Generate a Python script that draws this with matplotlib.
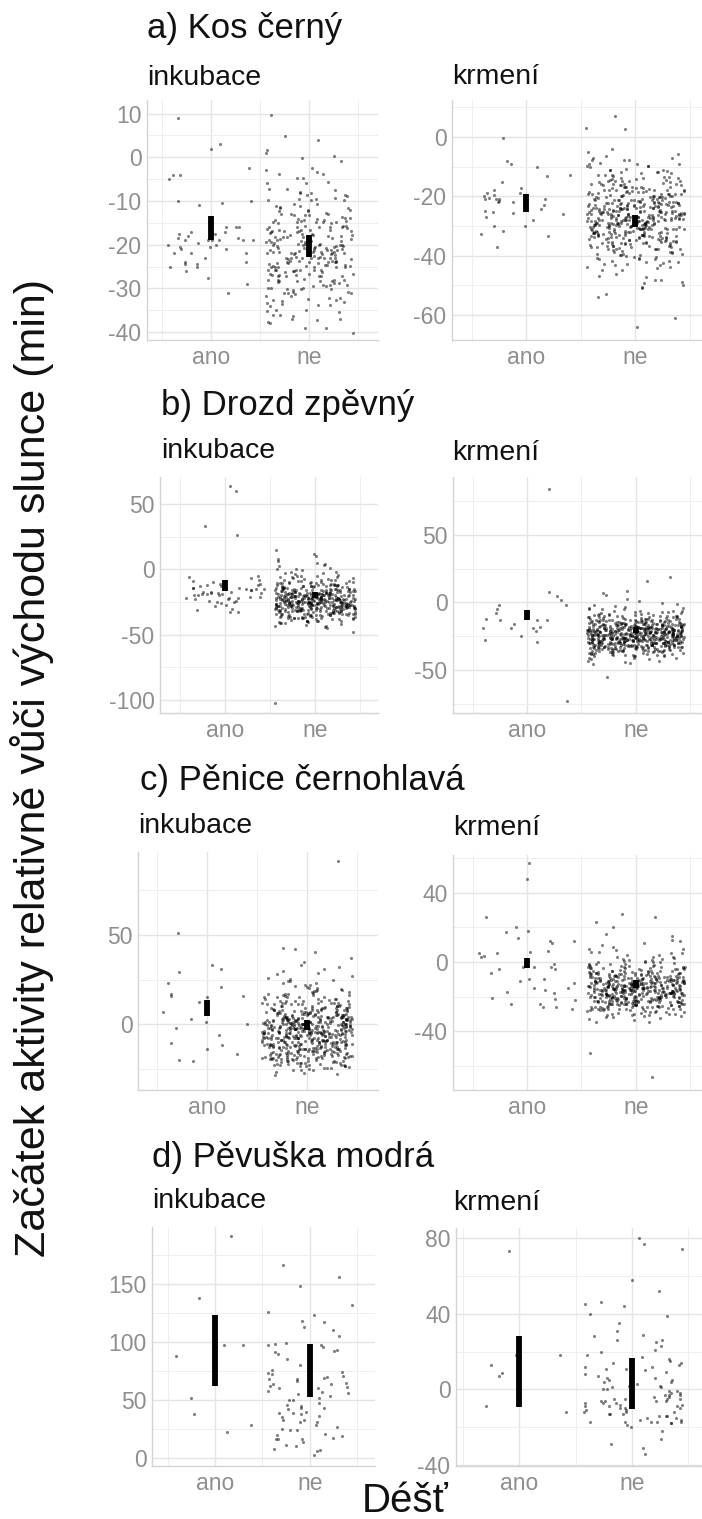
import numpy as np
import matplotlib
matplotlib.use("Agg")
import matplotlib.pyplot as plt

plt.rcParams["font.family"] = ["Liberation Sans", "DejaVu Sans"]
plt.rcParams["axes.unicode_minus"] = False

# ---------------------------------------------------------------------------
# Data: start of activity relative to sunrise (min), by rain (ano / ne)
# Sparse groups are listed value by value; dense groups are frequency tables
# (count of observations for each whole minute, starting at *_start).
# ---------------------------------------------------------------------------
categories = ["ano", "ne"]

# a) Kos černý
kos_ink_ano = [9, 2, 3, -5, -4, -2.5, -4, -10, -10, -10.5, -11, -19, -17, -17, -17.5,
               -16, -16, -17, -16, -17.5, -19, -19, -20, -20.5, -19.5, -19, -18, -18.5,
               -19, -18.5, -19, -22, -22, -22, -23, -20.5, -21, -24.5, -24, -26, -25,
               -24, -24.5, -27.7, -29, -31, -25, -20, -21]
kos_ink_ne_start = -40
kos_ink_ne_counts = [1, 2, 2, 3, 3, 4, 4, 5, 5, 6, 7, 8, 9, 11, 11, 12, 13, 13, 14, 13,
                     13, 12, 12, 11, 10, 9, 8, 7, 6, 5, 5, 4, 3, 3, 3, 2, 2, 2, 1, 1,
                     2, 1, 1, 0, 1, 1, 0, 0, 0, 0, 1]
kos_krm_ano = [-0.4, -8, -9.2, -13, -18, -17, -10, -12.7, -20.5, -20.8, -21, -21,
               -25.2, -24.8, -22, -21.6, -22.8, -24.3, -22, -19.6, -19, -31.6, -30, -30,
               -26, -33.2, -37, -32.6, -19.7, -18.8, -25.5, -23, -27, -15, -21, -28]
kos_krm_ne_start = -64
kos_krm_ne_counts = [1, 0, 0, 1, 0, 0, 0, 0, 0, 0, 1, 1, 0, 1, 2, 2, 2, 2, 1, 2,
                     3, 4, 5, 5, 6, 7, 8, 10, 11, 13, 14, 16, 18, 19, 20, 21, 22, 22, 21, 20,
                     19, 18, 17, 15, 14, 12, 11, 10, 9, 8, 7, 6, 5, 5, 4, 4, 3, 2, 2, 1,
                     1, 0, 0, 0, 0, 0, 0, 2, 0, 0, 0, 1]

# b) Drozd zpěvný
drozd_ink_ano = [60, 64, 33, 26, -33, -30, -28, -31, -33, -6, -8, -10, -12, -13, -14,
                 -15, -15, -16, -17, -18, -18, -19, -20, -20, -21, -22, -22, -23, -24,
                 -25, -26, -27, -9, -11, -14, -17, -19, -21, -23, -13, -16, -20, -24,
                 -12, -18, -7, -15, -22, -19, -5, -17, -25, -11, -14]
drozd_ink_ne_start = -48
drozd_ink_ne_counts = [1, 0, 0, 1, 1, 2, 2, 3, 4, 5, 6, 7, 8, 9, 10, 11, 13, 14, 16, 17,
                       18, 19, 20, 20, 20, 19, 18, 17, 16, 14, 13, 12, 11, 10, 9, 8, 7, 6,
                       6, 5, 4, 4, 3, 3, 2, 2, 2, 1, 2, 1, 1, 1, 1, 1, 1, 0, 1, 0, 1, 0,
                       1, 0, 0, 1]
drozd_ink_ne_extra = [-102]
drozd_krm_ano = [84, 8, 2, -2, -21, -28, -13, -19, -18, -2, -29, -13, -73, -19, -19,
                 5, -5, -13, -12, -16, -8, -25]
drozd_krm_ne_start = -56
drozd_krm_ne_counts = [0, 1, 0, 0, 0, 0, 0, 0, 0, 0, 1, 1, 1, 2, 2, 3, 4, 5, 7, 8,
                       10, 12, 14, 16, 18, 20, 22, 23, 24, 25, 26, 26, 26, 26, 25, 25, 24,
                       23, 21, 19, 17, 15, 13, 11, 9, 8, 7, 6, 5, 4, 3, 3, 2, 2, 1, 1, 1,
                       1, 0, 1, 0, 1, 0, 1, 1, 0, 0, 0, 0, 0, 0, 0, 1, 0, 0, 1]

# c) Pěnice černohlavá
penice_ink_ano = [51, 29, 33, 31, 16, 17, 15, 21, 12.5, 23, 16, 7, 3, -2, 0, -6, -10.5,
                  -12, -14, -17, -20, -21, 1, 9]
penice_ink_ne_start = -30
penice_ink_ne_counts = [0, 1, 1, 2, 3, 4, 5, 6, 7, 8, 9, 10, 10, 11, 12, 12, 13, 13, 14,
                        14, 15, 15, 16, 16, 17, 17, 18, 18, 18, 18, 18, 17, 16, 15, 14, 13,
                        12, 11, 10, 9, 8, 7, 7, 6, 5, 5, 4, 4, 3, 3, 3, 2, 2, 2, 2, 2, 1,
                        1, 1, 1, 1, 1, 1, 1, 0, 1, 0, 1, 0, 0, 1, 0, 1, 1, 0, 0]
penice_ink_ne_extra = [92]
penice_krm_ano = [57, 48, 26, 17, 14, 18, 12, 6.5, 6, 5, 3, -1, -3, -10, -6.5, -12, -10,
                  -15, -16, -24, -21.5, -4, 3.5, -11, -4, 11, 20, -3, -18, -26, -27, -3,
                  12, -15, -17, -22, -24, -26, -20.5, 5]
penice_krm_ne_start = -35
penice_krm_ne_counts = [1, 1, 2, 3, 4, 5, 6, 7, 9, 11, 13, 14, 16, 17, 18, 19, 20, 21, 21,
                        22, 22, 22, 21, 20, 19, 18, 16, 14, 13, 11, 10, 8, 7, 6, 5, 4, 4,
                        3, 3, 2, 2, 2, 2, 1, 1, 1, 1, 1, 1, 0, 1, 1, 0, 0, 0, 1, 0, 0, 1,
                        0, 0, 1, 0, 1]
penice_krm_ne_extra = [-66, -52.5]

# d) Pěvuška modrá
pevuska_ink_ano = [191, 138, 97, 97, 88, 52, 38, 28, 22]
pevuska_ink_ne = [166, 156, 148, 132, 123, 126, 118, 117, 113, 96, 91, 97, 98, 97, 99, 93,
                  92, 90, 76, 69, 70, 71, 68, 68, 64, 60, 56, 50, 73, 72, 74, 66, 64, 62,
                  57, 55, 53, 47, 46, 52, 43, 43, 42, 39, 35, 39, 38, 36, 31, 33, 31, 33,
                  11, 7, 10, 16, 21, 25, 24, 17, 16, 3, 6, 24, 20, 16, 85, 80, 60, 45, 65,
                  58, 28, 14, 105, 110, 40, 50, 61, 27, 19, 8]
pevuska_krm_ano = [73, 18, 7, 13, 8.5, -9, -12, 18]
pevuska_krm_ne = [77, 80, 74, 58, 52, 45, 44, 46, 40, 39, 25, 26, 28, 26, 31, 23, 29, 21,
                  17, 13, 11, 15, 10, 12, 14, 8, 5, 6, 1, 0, 2, -1, -3, -5, -7, -8, -10,
                  -6, -4, -20, -29, -34, -26, -31, -15, -16, -17, -18, -17, -16, -12, -13,
                  -15, -17, -3, -6, -9, -12, 2, 0, -2, -7, -10, -11, -13, -14, -17, -17,
                  -6, -5, -5, -6, -14, 14, 6, 5, 4, -9, 11, -8, -6, 9, 3, -2, -4, -11, 18,
                  20, 16, -1, -9, -13, -19, 7, 12, -3, -14, -18, 1, 4, -10, -22, -7, 35,
                  8, -12, 3, -5]

# Interval bars (lower / upper limit) for ano, ne
kos_ink_lo, kos_ink_hi = [-18.9, -22.8], [-13.5, -17.8]
kos_krm_lo, kos_krm_hi = [-25.3, -30.2], [-19.2, -26.3]
drozd_ink_lo, drozd_ink_hi = [-16.6, -22.2], [-8.1, -17.1]
drozd_krm_lo, drozd_krm_hi = [-13.3, -22.7], [-5.2, -18.3]
penice_ink_lo, penice_ink_hi = [4.5, -3.4], [13.5, 2.2]
penice_krm_lo, penice_krm_hi = [-3.5, -15.0], [2.3, -10.4]
pevuska_ink_lo, pevuska_ink_hi = [62, 52.6], [123, 98]
pevuska_krm_lo, pevuska_krm_hi = [-9.3, -10.4], [28.2, 16.6]

species_titles = ["a) Kos černý", "b) Drozd zpěvný", "c) Pěnice černohlavá", "d) Pěvuška modrá"]
stage_titles = ["inkubace", "krmení"]
y_title = "Začátek aktivity relativně vůči východu slunce (min)"
x_title = "Déšť"

# Y tick values per panel
kos_ink_ticks = [-40, -30, -20, -10, 0, 10]
kos_krm_ticks = [-60, -40, -20, 0]
drozd_ink_ticks = [-100, -50, 0, 50]
drozd_krm_ticks = [-50, 0, 50]
penice_ink_ticks = [0, 50]
penice_krm_ticks = [-40, 0, 40]
pevuska_ink_ticks = [0, 50, 100, 150]
pevuska_krm_ticks = [-40, 0, 40, 80]


def expand(start, counts, extra=()):
    values = np.repeat(np.arange(start, start + len(counts)), counts).astype(float)
    return np.concatenate([values, np.asarray(extra, dtype=float)]), True


def listed(values):
    return np.asarray(values, dtype=float), False


panels = [
    dict(groups=[listed(kos_ink_ano), expand(kos_ink_ne_start, kos_ink_ne_counts)],
         lo=kos_ink_lo, hi=kos_ink_hi, ticks=kos_ink_ticks),
    dict(groups=[listed(kos_krm_ano), expand(kos_krm_ne_start, kos_krm_ne_counts)],
         lo=kos_krm_lo, hi=kos_krm_hi, ticks=kos_krm_ticks),
    dict(groups=[listed(drozd_ink_ano),
                 expand(drozd_ink_ne_start, drozd_ink_ne_counts, drozd_ink_ne_extra)],
         lo=drozd_ink_lo, hi=drozd_ink_hi, ticks=drozd_ink_ticks),
    dict(groups=[listed(drozd_krm_ano), expand(drozd_krm_ne_start, drozd_krm_ne_counts)],
         lo=drozd_krm_lo, hi=drozd_krm_hi, ticks=drozd_krm_ticks),
    dict(groups=[listed(penice_ink_ano),
                 expand(penice_ink_ne_start, penice_ink_ne_counts, penice_ink_ne_extra)],
         lo=penice_ink_lo, hi=penice_ink_hi, ticks=penice_ink_ticks),
    dict(groups=[listed(penice_krm_ano),
                 expand(penice_krm_ne_start, penice_krm_ne_counts, penice_krm_ne_extra)],
         lo=penice_krm_lo, hi=penice_krm_hi, ticks=penice_krm_ticks),
    dict(groups=[listed(pevuska_ink_ano), listed(pevuska_ink_ne)],
         lo=pevuska_ink_lo, hi=pevuska_ink_hi, ticks=pevuska_ink_ticks),
    dict(groups=[listed(pevuska_krm_ano), listed(pevuska_krm_ne)],
         lo=pevuska_krm_lo, hi=pevuska_krm_hi, ticks=pevuska_krm_ticks),
]

# Layout (pixel boxes: left, top, right, bottom) and axis limits
W, H = 702, 1519
boxes = [(147, 100, 378, 340), (452, 100, 702, 340),
         (160, 477, 378, 713), (453, 477, 702, 713),
         (138, 852, 378, 1090), (453, 855, 702, 1090),
         (152, 1227, 375, 1466), (456, 1228, 702, 1466)]
xlims = [(0.347, 2.704), (0.317, 2.61), (0.278, 2.70), (0.317, 2.61),
         (0.31, 2.71), (0.317, 2.61), (0.333, 2.69), (0.438, 2.62)]
ylims = [(-41.8, 13.1), (-68.4, 12.5), (-110, 70.7), (-81.9, 93),
         (-37, 96.6), (-73.7, 61.6), (-6.9, 199), (-40.5, 85.3)]
title_pos = [(147, 38), (161, 415), (140, 790), (152, 1167)]
stage_pos = [[(147, 85), (452, 84)], [(161, 458), (452, 460)],
             [(138, 833), (453, 835)], [(152, 1208), (453, 1210)]]

TICK_GREY = "#8e8e8e"
GRID_MAJOR = "#e4e4e4"
GRID_MINOR = "#eeeeee"

fig = plt.figure(figsize=(W / 100, H / 100), dpi=100)
rng = np.random.default_rng(11)  # jitter offsets, as in a jittered strip plot

for i, p in enumerate(panels):
    x0, y0, x1, y1 = boxes[i]
    ax = fig.add_axes([x0 / W, 1 - y1 / H, (x1 - x0) / W, (y1 - y0) / H])
    ax.set_xlim(*xlims[i])
    ax.set_ylim(*ylims[i])

    for gi, (vals, whole_minutes) in enumerate(p["groups"]):
        n = len(vals)
        xs = gi + 1 + rng.uniform(-0.45, 0.45, n)
        ys = vals + (rng.uniform(-0.4, 0.4, n) if whole_minutes else 0.0)
        ax.scatter(xs, ys, s=5, color="black", alpha=0.5, linewidths=0, zorder=2)

    for gi in range(2):
        ax.plot([gi + 1, gi + 1], [p["lo"][gi], p["hi"][gi]], color="black",
                lw=4.2, solid_capstyle="butt", zorder=3)

    ticks = p["ticks"]
    step = ticks[1] - ticks[0]
    lo_y, hi_y = ylims[i]
    minors = np.arange(ticks[0] - 2 * step, ticks[-1] + 2 * step, step) + step / 2
    minors = [m for m in minors if lo_y < m < hi_y]
    ax.set_yticks(ticks)
    ax.set_yticks(minors, minor=True)
    ax.set_xticks([1, 2])
    ax.set_xticks([0.5, 1.5, 2.5], minor=True)
    ax.set_xticklabels(categories)
    ax.grid(which="major", color=GRID_MAJOR, lw=1.0, zorder=0)
    ax.grid(which="minor", color=GRID_MINOR, lw=0.7, zorder=0)
    ax.set_axisbelow(True)
    ax.tick_params(which="both", length=0, labelsize=16.5, labelcolor=TICK_GREY)
    ax.tick_params(axis="y", pad=4)
    ax.tick_params(axis="x", pad=4)
    for side in ("top", "right"):
        ax.spines[side].set_visible(False)
    for side in ("left", "bottom"):
        ax.spines[side].set_color("#d4d4d4")
        ax.spines[side].set_linewidth(1.0)
    ax.set_facecolor("white")

for r in range(4):
    tx, ty = title_pos[r]
    fig.text(tx / W, 1 - ty / H, species_titles[r], fontsize=25, color="#111111",
             ha="left", va="baseline")
    for c in range(2):
        sx, sy = stage_pos[r][c]
        fig.text(sx / W, 1 - sy / H, stage_titles[c], fontsize=20.5, color="#111111",
                 ha="left", va="baseline")

fig.text(32 / W, 1 - 768 / H, y_title, fontsize=31, rotation=90, color="#111111",
         ha="center", va="center")
fig.text(405 / W, 1 - 1512 / H, x_title, fontsize=29, color="#111111",
         ha="center", va="baseline")

fig.savefig("out.png", dpi=100, facecolor="white")
